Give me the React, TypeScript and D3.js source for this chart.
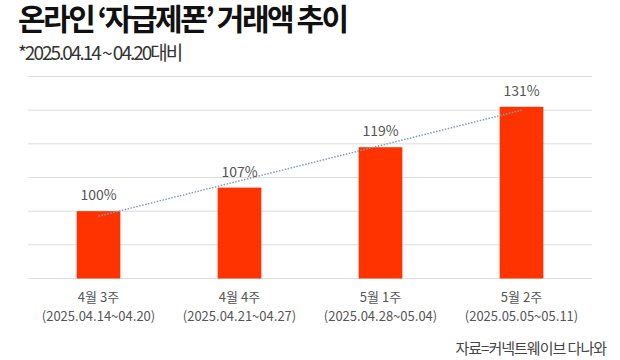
import React from "react";
import * as d3 from "d3";

const weeks = ["4월 3주", "4월 4주", "5월 1주", "5월 2주"];
const ranges = [
  "(2025.04.14~04.20)",
  "(2025.04.21~04.27)",
  "(2025.04.28~05.04)",
  "(2025.05.05~05.11)",
];
const values = [100, 107, 119, 131];
const yTicks = [80, 90, 100, 110, 120, 130, 140];

const W = 620;
const H = 360;
const font = "'Noto Sans CJK KR', 'Noto Sans', sans-serif";

export default function App() {
  const x = d3.scaleBand<string>()
    .domain(weeks)
    .range([28, 592])
    .paddingInner(0.69)
    .paddingOuter(0.345);

  const y = d3.scaleLinear()
    .domain([80, 140])
    .range([278.5, 76.5]);

  // linear trend line over the four weeks (least squares)
  const idx = values.map((_, i) => i);
  const mx = d3.mean(idx) as number;
  const my = d3.mean(values) as number;
  const slope = d3.sum(idx, i => (i - mx) * (values[i] - my)) / d3.sum(idx, i => (i - mx) ** 2);
  const trend = idx.map(i => my + slope * (i - mx));

  const cx = (w: string) => (x(w) as number) + x.bandwidth() / 2;
  const line = d3.line<number>()
    .x((_, i) => cx(weeks[i]))
    .y(d => y(d));

  return (
    <svg width={W} height={H} style={{ position: "absolute", left: 0, top: 0, background: "#fff" }}>
      <text x={18} y={30} fontFamily={font} fontWeight={700} fontSize={30} fill="#111"
        letterSpacing={-2.5}>
        온라인 ‘자급제폰’ 거래액 추이
      </text>
      <text x={18} y={60} fontFamily={font} fontSize={19} fill="#333"
        letterSpacing={-2}>
        *2025.04.14 ~ 04.20대비
      </text>

      {yTicks.map(t => (
        <line key={t} x1={28} x2={592} y1={y(t)} y2={y(t)} stroke="#dcdcdc" strokeWidth={1} />
      ))}

      {values.map((v, i) => (
        <rect key={weeks[i]} x={x(weeks[i])} y={y(v)} width={x.bandwidth()} height={y(80) - y(v)}
          fill="#ff3300" />
      ))}

      <path d={line(trend) || ""} fill="none" stroke="#7d9fbe" strokeWidth={1.5} strokeDasharray="1.5,1.5" />

      {values.map((v, i) => (
        <text key={"l" + i} x={cx(weeks[i])} y={y(v) - 11} textAnchor="middle"
          fontFamily={font} fontSize={14} fill="#555">
          {v}%
        </text>
      ))}

      {weeks.map((w, i) => (
        <g key={"t" + i} fontFamily={font} fontSize={13} fill="#555" textAnchor="middle">
          <text x={cx(w)} y={302}>{w}</text>
          <text x={cx(w)} y={321}>{ranges[i]}</text>
        </g>
      ))}

      <text x={606} y={354} textAnchor="end" fontFamily={font} fontSize={15} fill="#444"
        letterSpacing={-1}>
        자료=커넥트웨이브 다나와
      </text>
    </svg>
  );
}
